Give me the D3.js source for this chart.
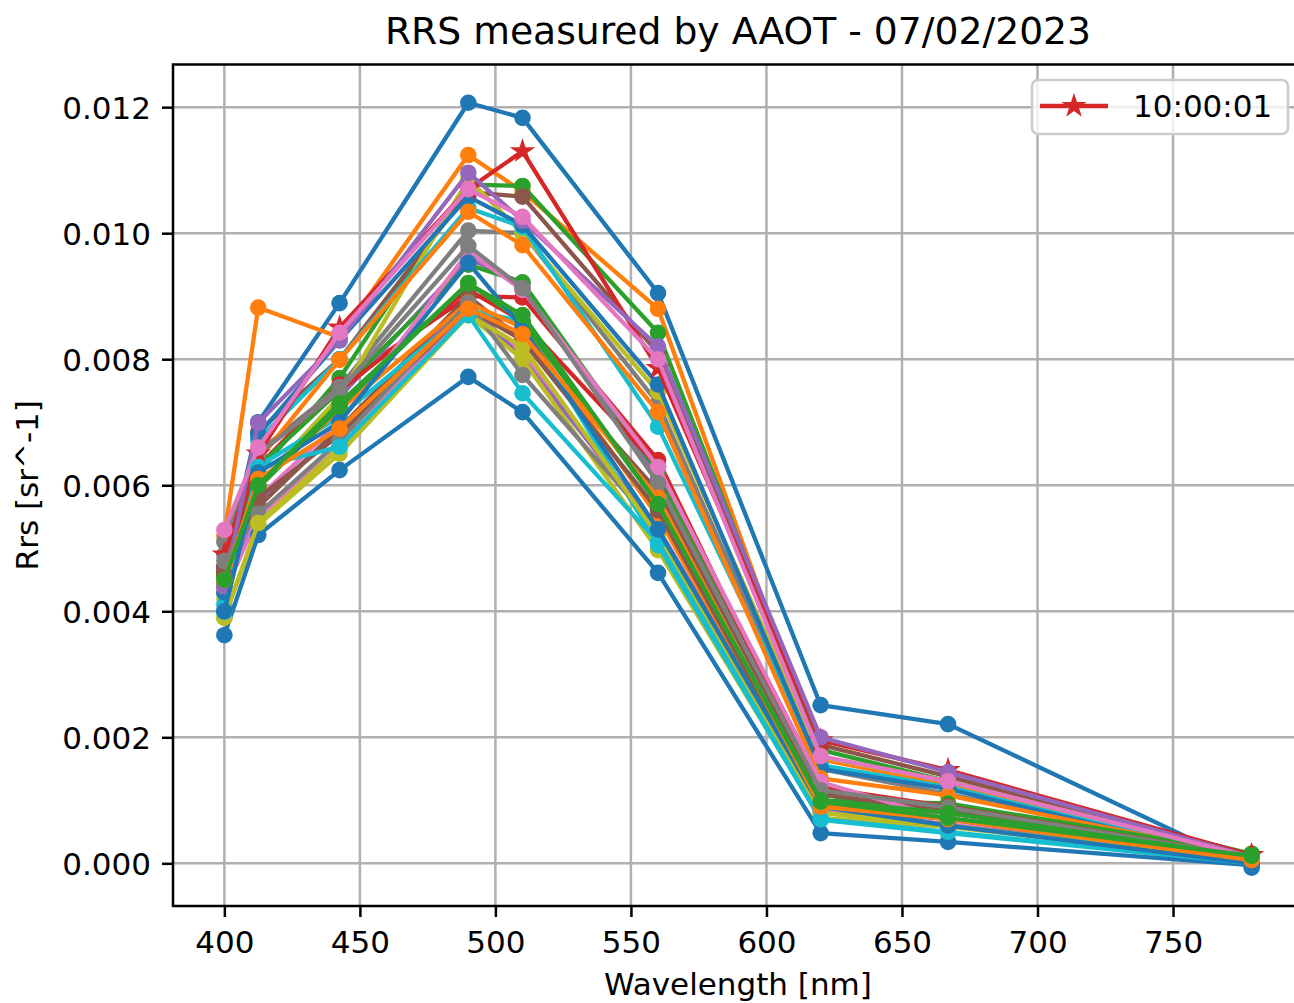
<!DOCTYPE html>
<html>
<head>
<meta charset="utf-8">
<script src="https://cdn.jsdelivr.net/npm/d3@7"></script>
<style>
  html, body { margin: 0; padding: 0; background: #fff; }
  svg { display: block; font-family: "DejaVu Sans", sans-serif; }
</style>
</head>
<body>
<svg id="chart" width="1294" height="1003"></svg>
<script>
// ---------------- data ----------------
const titleText = "RRS measured by AAOT - 07/02/2023";
const xLabel = "Wavelength [nm]";
const yLabel = "Rrs [sr^-1]";
const wavelengths = [400, 412.5, 442.5, 490, 510, 560, 620, 667, 779];
const xTicks = [400, 450, 500, 550, 600, 650, 700, 750];
const yTicks = [0.000, 0.002, 0.004, 0.006, 0.008, 0.010, 0.012];
const tab10 = ["#1f77b4", "#ff7f0e", "#2ca02c", "#d62728", "#9467bd",
               "#8c564b", "#e377c2", "#7f7f7f", "#bcbd22", "#17becf"];
const highlightLabel = "10:00:01";
const highlightIndex = 23;

// Rrs spectra, in plotting order (one row per acquisition)
const spectra = [
  [0.00460, 0.00700, 0.00889, 0.01207, 0.01183, 0.00905, 0.00251, 0.00221, -0.00007],
  [0.00520, 0.00882, 0.00835, 0.01124, 0.01066, 0.00880, 0.00165, 0.00125, 0.00010],
  [0.00460, 0.00620, 0.00770, 0.01077, 0.01075, 0.00842, 0.00180, 0.00130, 0.00015],
  [0.00470, 0.00630, 0.00760, 0.00900, 0.00898, 0.00640, 0.00110, 0.00080, 0.00010],
  [0.00440, 0.00600, 0.00740, 0.00960, 0.00920, 0.00610, 0.00110, 0.00080, 0.00008],
  [0.00470, 0.00685, 0.00800, 0.01065, 0.01058, 0.00810, 0.00188, 0.00138, 0.00010],
  [0.00430, 0.00550, 0.00660, 0.00880, 0.00810, 0.00521, 0.00088, 0.00062, 0.00005],
  [0.00510, 0.00653, 0.00756, 0.01004, 0.01000, 0.00730, 0.00150, 0.00110, 0.00010],
  [0.00420, 0.00600, 0.00740, 0.01086, 0.01000, 0.00748, 0.00169, 0.00130, 0.00010],
  [0.00410, 0.00672, 0.00800, 0.01040, 0.01010, 0.00693, 0.00156, 0.00121, 0.00005],
  [0.00430, 0.00680, 0.00830, 0.01058, 0.01013, 0.00760, 0.00150, 0.00118, 0.00003],
  [0.00450, 0.00640, 0.00799, 0.01034, 0.00981, 0.00716, 0.00135, 0.00108, 0.00010],
  [0.00460, 0.00630, 0.00750, 0.00950, 0.00922, 0.00620, 0.00100, 0.00095, 0.00015],
  [0.00460, 0.00650, 0.00750, 0.00910, 0.00860, 0.00630, 0.00120, 0.00090, 0.00010],
  [0.00440, 0.00570, 0.00690, 0.00890, 0.00800, 0.00532, 0.00093, 0.00060, 0.00005],
  [0.00470, 0.00566, 0.00690, 0.00900, 0.00830, 0.00590, 0.00110, 0.00083, 0.00010],
  [0.00440, 0.00580, 0.00700, 0.00970, 0.00910, 0.00629, 0.00129, 0.00069, 0.00005],
  [0.00490, 0.00650, 0.00750, 0.00980, 0.00913, 0.00603, 0.00116, 0.00089, 0.00010],
  [0.00390, 0.00537, 0.00650, 0.00870, 0.00800, 0.00497, 0.00072, 0.00058, 0.00005],
  [0.00400, 0.00630, 0.00709, 0.00878, 0.00860, 0.00505, 0.00069, 0.00048, 0.00000],
  [0.00362, 0.00521, 0.00624, 0.00772, 0.00716, 0.00461, 0.00048, 0.00034, -0.00003],
  [0.00440, 0.00600, 0.00720, 0.00890, 0.00850, 0.00550, 0.00090, 0.00070, 0.00005],
  [0.00453, 0.00596, 0.00724, 0.00921, 0.00860, 0.00570, 0.00100, 0.00080, 0.00010],
  [0.00490, 0.00650, 0.00850, 0.01070, 0.01130, 0.00786, 0.00195, 0.00148, 0.00013],
  [0.00440, 0.00699, 0.00830, 0.01096, 0.01020, 0.00820, 0.00200, 0.00145, 0.00010],
  [0.00460, 0.00580, 0.00680, 0.00880, 0.00830, 0.00560, 0.00090, 0.00070, 0.00005],
  [0.00529, 0.00660, 0.00842, 0.01070, 0.01026, 0.00800, 0.00170, 0.00130, 0.00010],
  [0.00480, 0.00555, 0.00670, 0.00889, 0.00775, 0.00530, 0.00081, 0.00060, 0.00003],
  [0.00390, 0.00540, 0.00660, 0.00870, 0.00820, 0.00520, 0.00080, 0.00060, 0.00003],
  [0.00399, 0.00629, 0.00661, 0.00870, 0.00746, 0.00510, 0.00070, 0.00050, 0.00000],
  [0.00400, 0.00620, 0.00700, 0.00953, 0.00850, 0.00530, 0.00090, 0.00060, 0.00000],
  [0.00450, 0.00610, 0.00690, 0.00880, 0.00840, 0.00580, 0.00090, 0.00070, 0.00005],
  [0.00450, 0.00600, 0.00730, 0.00920, 0.00870, 0.00570, 0.00098, 0.00072, 0.00012]
];

// ---------------- layout ----------------
const plot = { left: 173, top: 64.5, right: 1303, bottom: 906 };
const fontTick = 31, fontTitle = 37.7;
const lw = 4.3, markerR = 8.3;

const svg = d3.select("#chart");

function padded(ext) {
  const m = (ext[1] - ext[0]) * 0.05;
  return [ext[0] - m, ext[1] + m];
}
const allY = spectra.flat();
const x = d3.scaleLinear().domain(padded(d3.extent(wavelengths))).range([plot.left, plot.right]);
const y = d3.scaleLinear().domain(padded(d3.extent(allY))).range([plot.bottom, plot.top]);

// grid
const grid = svg.append("g").attr("stroke", "#b0b0b0").attr("stroke-width", 2.5);
grid.selectAll("line.vx").data(xTicks).join("line")
  .attr("x1", d => x(d)).attr("x2", d => x(d))
  .attr("y1", plot.top).attr("y2", plot.bottom);
grid.selectAll("line.hy").data(yTicks).join("line")
  .attr("x1", plot.left).attr("x2", plot.right)
  .attr("y1", d => y(d)).attr("y2", d => y(d));

// series
const line = d3.line().x((d, i) => x(wavelengths[i])).y(d => y(d));
svg.append("clipPath").attr("id", "clip").append("rect")
  .attr("x", plot.left).attr("y", plot.top)
  .attr("width", plot.right - plot.left).attr("height", plot.bottom - plot.top);
const seriesG = svg.append("g").attr("clip-path", "url(#clip)");
const star = d3.symbol().type(d3.symbolStar).size(200);

spectra.forEach((vals, si) => {
  const col = tab10[si % 10];
  const g = seriesG.append("g");
  g.append("path").datum(vals)
    .attr("d", line).attr("fill", "none")
    .attr("stroke", col).attr("stroke-width", lw)
    .attr("stroke-linejoin", "round").attr("stroke-linecap", "square");
  if (si === highlightIndex) {
    g.selectAll("path.m").data(vals).join("path")
      .attr("transform", (d, i) => `translate(${x(wavelengths[i])},${y(d)})`)
      .attr("d", star).attr("fill", col);
  } else {
    g.selectAll("circle").data(vals).join("circle")
      .attr("cx", (d, i) => x(wavelengths[i])).attr("cy", d => y(d))
      .attr("r", markerR).attr("fill", col);
  }
});

// axes
const xAxis = d3.axisBottom(x).tickValues(xTicks).tickFormat(d3.format("d"))
  .tickSize(11).tickPadding(14);
const yAxis = d3.axisLeft(y).tickValues(yTicks).tickFormat(d3.format(".3f"))
  .tickSize(11).tickPadding(11);

const gx = svg.append("g").attr("transform", `translate(0,${plot.bottom})`).call(xAxis);
const gy = svg.append("g").attr("transform", `translate(${plot.left},0)`).call(yAxis);
[gx, gy].forEach(g => {
  g.select(".domain").remove();
  g.selectAll(".tick line").attr("stroke", "#000").attr("stroke-width", 2.5);
  g.selectAll(".tick text").attr("fill", "#000")
    .style("font-family", "'DejaVu Sans', sans-serif").style("font-size", fontTick + "px");
});
gy.selectAll(".tick text").attr("dy", "0.36em");

// frame
svg.append("rect")
  .attr("x", plot.left).attr("y", plot.top)
  .attr("width", plot.right - plot.left).attr("height", plot.bottom - plot.top)
  .attr("fill", "none").attr("stroke", "#000").attr("stroke-width", 2.5);

// title & labels
svg.append("text").attr("x", (plot.left + plot.right) / 2).attr("y", 44)
  .attr("text-anchor", "middle").style("font-size", fontTitle + "px").text(titleText);
svg.append("text").attr("x", (plot.left + plot.right) / 2).attr("y", 995)
  .attr("text-anchor", "middle").style("font-size", fontTick + "px").text(xLabel);
svg.append("text")
  .attr("transform", `translate(38,${(plot.top + plot.bottom) / 2}) rotate(-90)`)
  .attr("text-anchor", "middle").style("font-size", fontTick + "px").text(yLabel);

// legend
const lg = svg.append("g");
lg.append("rect").attr("x", 1032).attr("y", 80).attr("width", 256).attr("height", 54)
  .attr("rx", 6).attr("fill", "#fff").attr("fill-opacity", 0.8)
  .attr("stroke", "#cccccc").attr("stroke-width", 2.5);
const hlColor = tab10[highlightIndex % 10];
lg.append("line").attr("x1", 1040).attr("x2", 1108).attr("y1", 106).attr("y2", 106)
  .attr("stroke", hlColor).attr("stroke-width", lw);
lg.append("path").attr("transform", "translate(1074,106)").attr("d", star).attr("fill", hlColor);
lg.append("text").attr("x", 1133).attr("y", 117).style("font-size", fontTick + "px").text(highlightLabel);
</script>
</body>
</html>
